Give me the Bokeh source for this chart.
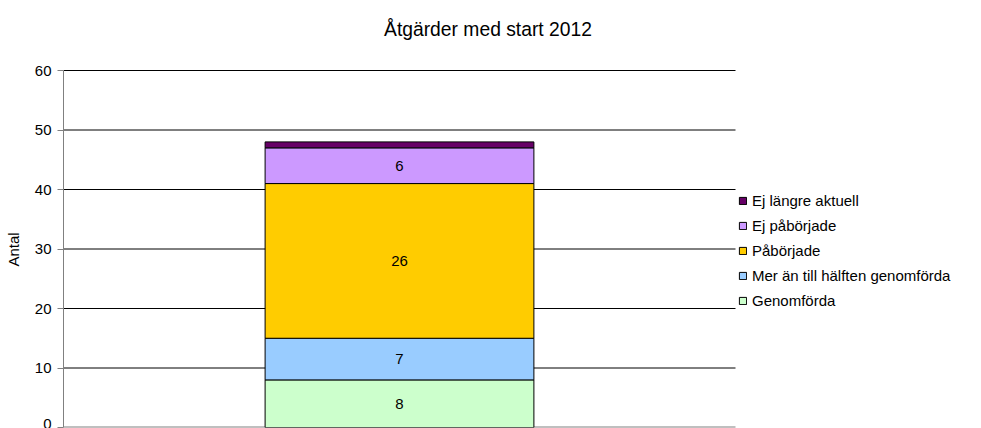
from bokeh.plotting import figure
from bokeh.models import ColumnDataSource, Legend, LegendItem, LabelSet, Label, FixedTicker, Range1d
from bokeh.core.properties import value
from bokeh.embed import file_html
from bokeh.resources import INLINE

title_text = "Åtgärder med start 2012"
y_label = "Antal"
categories = ["2012"]
series = ["Genomförda", "Mer än till hälften genomförda", "Påbörjade", "Ej påbörjade", "Ej längre aktuell"]
values = [8, 7, 26, 6, 1]
colors = ["#CCFFCC", "#99CCFF", "#FFCC00", "#CC99FF", "#660066"]
y_ticks = [0, 10, 20, 30, 40, 50, 60]

FONT = "Liberation Sans"

# plot area: x 0..1 (bar slot), y 0..60; the frame is widened right and up to host legend and title
PLOT_W, PLOT_H = 672, 357
FRAME_W, FRAME_H = 981 - 63, 427
y_max = y_ticks[-1]
p = figure(width=981, height=428,
           x_range=Range1d(0, FRAME_W / PLOT_W),
           y_range=Range1d(0, y_max * FRAME_H / PLOT_H),
           output_backend="svg", toolbar_location=None,
           min_border_left=63, min_border_right=0, min_border_top=0, min_border_bottom=1)
p.outline_line_color = None
p.background_fill_color = "white"
p.border_fill_color = "white"

# title (inside the widened frame, screen units from frame's bottom-left)
p.add_layout(Label(x=424.5, y=FRAME_H - 28.5, x_units="screen", y_units="screen",
                   text=title_text, text_align="center", text_baseline="alphabetic",
                   text_font=FONT, text_font_size="19.3px", text_color="#000000"))

# gridlines over the plot area only
grid_src = ColumnDataSource(dict(y=y_ticks[1:], x0=[0] * (len(y_ticks) - 1), x1=[1] * (len(y_ticks) - 1)))
p.segment(x0="x0", y0="y", x1="x1", y1="y", source=grid_src, line_color="#000000", line_width=1)
p.segment(x0=[0], y0=[y_ticks[0]], x1=[1], y1=[y_ticks[0]], line_color="#808080", line_width=2)

bar_x = [0.5 for _ in categories]
data = {"x": bar_x}
for s, v in zip(series, values):
    data[s] = [v]
src = ColumnDataSource(data)
renderers = p.vbar_stack(series, x="x", width=0.4, source=src, color=colors,
                         line_color="#000000", line_width=1)

# data labels
bottoms = []
tops = []
acc = 0
for v in values:
    bottoms.append(acc)
    acc += v
    tops.append(acc)
lab_x, lab_y, lab_t = [], [], []
for b, t, v in zip(bottoms, tops, values):
    if v > 1:
        lab_x.append(bar_x[0])
        lab_y.append((b + t) / 2)
        lab_t.append(str(v))
lsrc = ColumnDataSource(dict(x=lab_x, y=lab_y, t=lab_t))
p.add_layout(LabelSet(x="x", y="y", text="t", source=lsrc, text_align="center",
                      text_baseline="middle", text_font=value(FONT), text_font_size=value("15px"),
                      text_color="#000000"))

# axes
p.xaxis.visible = False
p.xgrid.visible = False
p.ygrid.visible = False
p.yaxis.bounds = (y_ticks[0], y_ticks[-1])
p.yaxis.ticker = FixedTicker(ticks=y_ticks)
p.yaxis.axis_line_color = "#808080"
p.yaxis.major_tick_line_color = "#808080"
p.yaxis.major_tick_out = 6
p.yaxis.major_tick_in = 0
p.yaxis.minor_tick_line_color = None
p.yaxis.major_label_text_font = FONT
p.yaxis.major_label_text_font_size = "15px"
p.yaxis.major_label_text_color = "#000000"
p.yaxis.major_label_standoff = 6
# non-breaking spaces shift the centred label down to the middle of the 0..60 span
p.yaxis.axis_label = y_label + "\u00a0" * 17
p.yaxis.axis_label_text_font = FONT
p.yaxis.axis_label_text_font_size = "15px"
p.yaxis.axis_label_text_font_style = "normal"
p.yaxis.axis_label_text_color = "#000000"
p.yaxis.axis_label_standoff = 10

# legend (reversed order)
items = [LegendItem(label=s, renderers=[r]) for s, r in zip(series, renderers)][::-1]
legend = Legend(items=items, location=(675, 117), orientation="vertical",
                label_text_font=FONT, label_text_font_size="15px", label_text_color="#000000",
                glyph_width=9, glyph_height=9, label_height=20, spacing=5, label_standoff=5,
                padding=0, margin=0, border_line_color=None, background_fill_alpha=0)
p.add_layout(legend)

open("out.html", "w").write(file_html(p, INLINE))
